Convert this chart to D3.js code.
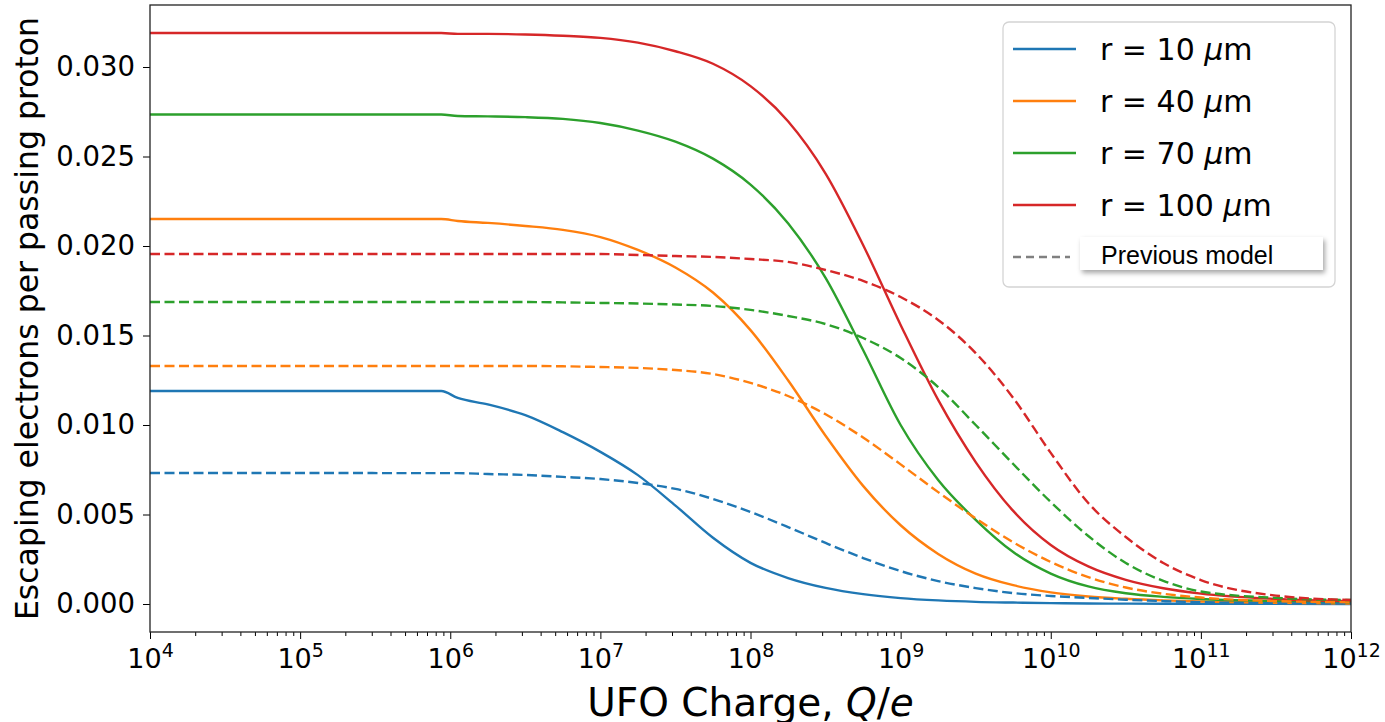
<!DOCTYPE html>
<html>
<head>
<meta charset="utf-8">
<script src="https://cdn.jsdelivr.net/npm/d3@7"></script>
<style>
  body { margin: 0; background: #fff; }
  svg { display: block; }
  text { font-family: "DejaVu Sans", sans-serif; fill: #000; }
</style>
</head>
<body>
<svg id="chart" width="1385" height="722"></svg>
<script>
// x grid, log10 of the UFO charge Q/e
var logQ = [4, 5, 5.94, 6.05, 6.25, 6.5, 6.75, 7, 7.25, 7.5, 7.75, 8, 8.25, 8.5, 8.75,
            9, 9.25, 9.5, 9.75, 10, 10.25, 10.5, 10.75, 11, 11.5, 12];

// new model (solid)
var r10 = [0.0119, 0.0119, 0.0119, 0.01151, 0.01115, 0.01055, 0.0096, 0.0085, 0.0072, 0.0055, 0.0037,
           0.0023, 0.00145, 0.0009, 0.00055, 0.00033, 0.0002, 0.00012, 0.00008, 0.00005, 0.00003,
           0.00002, 0.000015, 0.00001, 0.000005, 0];
var r40 = [0.02151, 0.02151, 0.02151, 0.0214, 0.02129, 0.02112, 0.0209, 0.0205, 0.01978, 0.0188, 0.0174,
           0.0153, 0.0125, 0.0094, 0.0066, 0.0044, 0.0028, 0.0017, 0.00105, 0.00065, 0.00042,
           0.00029, 0.0002, 0.00014, 0.00007, 0.00003];
var r70 = [0.02735, 0.02735, 0.02735, 0.02726, 0.02724, 0.0272, 0.0271, 0.02687, 0.02645, 0.02583, 0.02488,
           0.02343, 0.02127, 0.01822, 0.01419, 0.01, 0.00693, 0.0047, 0.0029, 0.0017, 0.00098,
           0.0006, 0.0004, 0.00028, 0.00016, 0.00008];
var r100 = [0.0319, 0.0319, 0.0319, 0.03185, 0.03185, 0.03182, 0.03175, 0.03163, 0.03136, 0.03088, 0.03018,
            0.02893, 0.02697, 0.02405, 0.02006, 0.01559, 0.0114, 0.00793, 0.0052, 0.0033, 0.0021,
            0.00135, 0.00088, 0.00058, 0.00028, 0.00015];

// previous model (dashed)
var prev10 = [0.00732, 0.00732, 0.00731, 0.00731, 0.00726, 0.00721, 0.0071, 0.00698, 0.00676, 0.00643, 0.00587,
              0.00514, 0.0043, 0.00341, 0.00257, 0.00184, 0.00128, 0.00089, 0.00061, 0.00045, 0.00034,
              0.00024, 0.00016, 0.0001, 0.00004, 0.00002];
var prev40 = [0.0133, 0.0133, 0.0133, 0.0133, 0.0133, 0.0133, 0.01328, 0.01324, 0.01319, 0.01307, 0.01285,
              0.01235, 0.01162, 0.0106, 0.0093, 0.0078, 0.00625, 0.00478, 0.00345, 0.00235, 0.0015,
              0.00092, 0.00057, 0.00036, 0.00016, 0.0001];
var prev70 = [0.01687, 0.01687, 0.01687, 0.01687, 0.01687, 0.01687, 0.01685, 0.01682, 0.01679, 0.01673, 0.01665,
              0.01643, 0.01609, 0.01564, 0.01486, 0.01374, 0.01212, 0.01, 0.00782, 0.0057, 0.0038,
              0.00229, 0.00129, 0.0007, 0.00034, 0.00022];
var prev100 = [0.01955, 0.01955, 0.01955, 0.01955, 0.01955, 0.01955, 0.01955, 0.01955, 0.0195, 0.01944, 0.01939,
               0.01927, 0.01911, 0.01866, 0.01805, 0.01715, 0.01587, 0.01402, 0.01151, 0.00844, 0.00564,
               0.00374, 0.00229, 0.00134, 0.00047, 0.00022];

var radii = ["10", "40", "70", "100"];
var colors = ["#1f77b4", "#ff7f0e", "#2ca02c", "#d62728"];
var newModel = [r10, r40, r70, r100];
var oldModel = [prev10, prev40, prev70, prev100];

var yTicks = [0, 0.005, 0.01, 0.015, 0.02, 0.025, 0.03];
var xTicks = [1e4, 1e5, 1e6, 1e7, 1e8, 1e9, 1e10, 1e11, 1e12];

// plot box (don't call it "top", that one belongs to window)
var pL = 150, pR = 1351, pT = 5, pB = 632;
var svg = d3.select("#chart");

var x = d3.scaleLog().domain([1e4, 1e12]).range([pL, pR]);
var y = d3.scaleLinear().domain([-0.001564, 0.033464]).range([pB, pT]);

// minor ticks 2..9 in every decade
var minor = [];
for (var e = 4; e < 12; e++) {
  for (var m = 2; m < 10; m++) minor.push(m * Math.pow(10, e));
}

var gMinor = svg.append("g").attr("transform", "translate(0," + pB + ")")
  .call(d3.axisBottom(x).tickValues(minor).tickSize(4).tickFormat(""));
gMinor.selectAll("path.domain").remove();
gMinor.selectAll("line").attr("stroke", "#000");

var gx = svg.append("g").attr("transform", "translate(0," + pB + ")")
  .call(d3.axisBottom(x).tickValues(xTicks).tickSize(7).tickPadding(10).tickFormat(""));
gx.selectAll("path.domain").remove();
gx.selectAll("line").attr("stroke", "#000");
gx.selectAll(".tick text")
  .attr("font-size", 27)
  .each(function(d) {
    var t = d3.select(this);
    t.append("tspan").text("10");
    t.append("tspan").attr("font-size", 19).attr("dy", "-0.6em").text(Math.round(Math.log10(d)));
  });

var gy = svg.append("g").attr("transform", "translate(" + pL + ",0)")
  .call(d3.axisLeft(y).tickValues(yTicks).tickSize(7).tickPadding(8).tickFormat(d3.format(".3f")));
gy.selectAll("path.domain").remove();
gy.selectAll("line").attr("stroke", "#000");
gy.selectAll("text").attr("font-size", 27.5);

var line = d3.line()
  .x(function(d) { return x(Math.pow(10, d[0])); })
  .y(function(d) { return y(d[1]); })
  .curve(d3.curveMonotoneX);

var plot = svg.append("g");
function drawSeries(vals, color, dashed) {
  var pts = logQ.map(function(l, i) { return [l, vals[i]]; });
  plot.append("path")
    .attr("d", line(pts))
    .attr("fill", "none")
    .attr("stroke", color)
    .attr("stroke-width", 2.4)
    .attr("stroke-dasharray", dashed ? "10,4.5" : null);
}
for (var i = 0; i < 4; i++) drawSeries(newModel[i], colors[i], false);
for (var i = 0; i < 4; i++) drawSeries(oldModel[i], colors[i], true);

// frame
svg.append("rect")
  .attr("x", pL).attr("y", pT)
  .attr("width", pR - pL).attr("height", pB - pT)
  .attr("fill", "none").attr("stroke", "#222").attr("stroke-width", 1.3);

// axis labels
svg.append("text")
  .attr("x", (pL + pR) / 2).attr("y", 716)
  .attr("text-anchor", "middle").attr("font-size", 39)
  .call(function(t) {
    t.append("tspan").text("UFO Charge, ");
    t.append("tspan").attr("font-style", "italic").text("Q");
    t.append("tspan").text("/");
    t.append("tspan").attr("font-style", "italic").text("e");
  });

svg.append("text")
  .attr("transform", "translate(38," + ((pT + pB) / 2) + ") rotate(-90)")
  .attr("text-anchor", "middle").attr("font-size", 31.5)
  .text("Escaping electrons per passing proton");

// legend
var defs = svg.append("defs");
var f = defs.append("filter").attr("id", "shadow").attr("x", "-10%").attr("y", "-30%")
  .attr("width", "130%").attr("height", "180%");
f.append("feDropShadow").attr("dx", 2).attr("dy", 3).attr("stdDeviation", 2.5)
  .attr("flood-color", "#000").attr("flood-opacity", 0.35);

var lg = svg.append("g");
lg.append("rect")
  .attr("x", 1003).attr("y", 22).attr("width", 332).attr("height", 265).attr("rx", 6)
  .attr("fill", "#fff").attr("fill-opacity", 0.85).attr("stroke", "#d4d4d4").attr("stroke-width", 1.3);

radii.forEach(function(r, i) {
  var ly = 49 + i * 52;
  lg.append("line").attr("x1", 1013).attr("x2", 1076).attr("y1", ly).attr("y2", ly)
    .attr("stroke", colors[i]).attr("stroke-width", 2.4);
  lg.append("text").attr("x", 1100).attr("y", ly + 11).attr("font-size", 30)
    .call(function(t) {
      t.append("tspan").text("r = " + r + " ");
      t.append("tspan").attr("font-style", "italic").text("\u03bc");
      t.append("tspan").text("m");
    });
});
lg.append("line").attr("x1", 1013).attr("x2", 1070).attr("y1", 257).attr("y2", 257)
  .attr("stroke", "#808080").attr("stroke-width", 2.4).attr("stroke-dasharray", "8,5");
lg.append("rect").attr("x", 1080).attr("y", 237).attr("width", 243).attr("height", 33)
  .attr("fill", "#fff").attr("filter", "url(#shadow)");
lg.append("text").attr("x", 1101).attr("y", 264).attr("font-size", 25)
  .style("font-family", "'Liberation Sans', Arial, sans-serif")
  .text("Previous model");
</script>
</body>
</html>
